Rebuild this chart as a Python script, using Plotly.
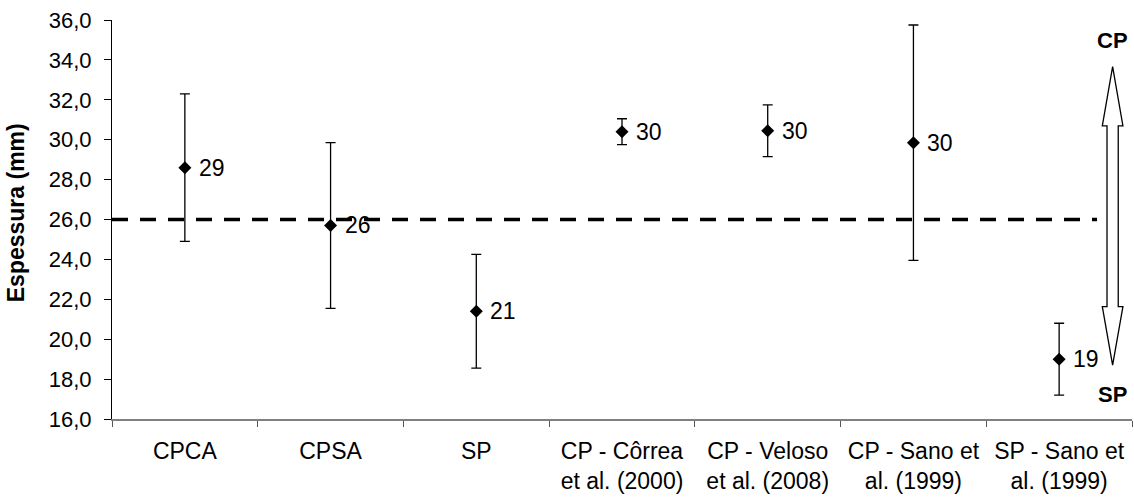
import plotly.graph_objects as go

categories = ["CPCA", "CPSA", "SP",
              "CP - Côrrea<br>et al. (2000)",
              "CP - Veloso<br>et al. (2008)",
              "CP - Sano et<br>al. (1999)",
              "SP - Sano et<br>al. (1999)"]
means = [28.6, 25.7, 21.4, 30.4, 30.45, 29.85, 19.0]
errors = [3.7, 4.15, 2.85, 0.65, 1.3, 5.9, 1.8]
point_labels = ["29", "26", "21", "30", "30", "30", "19"]
reference_value = 26.0
y_ticks = [16, 18, 20, 22, 24, 26, 28, 30, 32, 34, 36]

FONT = "Liberation Sans, Arial, sans-serif"
FS = 22

fig = go.Figure()
fig.add_trace(go.Scatter(
    x=categories, y=means, mode="markers",
    marker=dict(symbol="diamond", size=10, color="black"),
    error_y=dict(type="data", array=errors, visible=True, color="black",
                 thickness=1.3, width=5),
    cliponaxis=False, hoverinfo="skip", showlegend=False,
))
for cat, m, lab in zip(categories, means, point_labels):
    fig.add_annotation(text=lab, xref="x", yref="y", x=cat, y=m,
                       showarrow=False, xanchor="left", yanchor="middle",
                       xshift=12, font=dict(family=FONT, size=23, color="black"))

# dashed reference line
fig.add_shape(type="line", xref="x", yref="y", x0=-0.5, x1=6.26,
              y0=reference_value, y1=reference_value,
              line=dict(color="black", width=3.5, dash="16px,12px"))

# double arrow (CP up / SP down)
xc, hw, sw = 0.981, 0.0101, 0.0055
top_tip, top_base, bot_base, bot_tip = 33.66, 30.69, 21.63, 18.7
path = (f"M {xc},{top_tip} L {xc+hw},{top_base} L {xc+sw},{top_base} "
        f"L {xc+sw},{bot_base} L {xc+hw},{bot_base} L {xc},{bot_tip} "
        f"L {xc-hw},{bot_base} L {xc-sw},{bot_base} L {xc-sw},{top_base} "
        f"L {xc-hw},{top_base} Z")
fig.add_shape(type="path", xref="paper", yref="y", path=path,
              fillcolor="white", line=dict(color="black", width=1.3))

fig.add_annotation(text="<b>CP</b>", xref="paper", yref="y", x=xc, y=34.95,
                   showarrow=False, xanchor="center", yanchor="middle",
                   font=dict(family=FONT, size=FS, color="black"))
fig.add_annotation(text="<b>SP</b>", xref="paper", yref="y", x=xc, y=17.25,
                   showarrow=False, xanchor="center", yanchor="middle",
                   font=dict(family=FONT, size=FS, color="black"))

# y-axis title
fig.add_annotation(text="<b>Espessura (mm)</b>", xref="paper", yref="paper",
                   x=-0.094, y=0.516, textangle=-90, showarrow=False,
                   xanchor="center", yanchor="middle",
                   font=dict(family=FONT, size=23, color="black"))

fig.update_layout(
    width=1134, height=497,
    margin=dict(l=112, r=2, t=20, b=78),
    paper_bgcolor="white", plot_bgcolor="white",
    separators=",.",
    font=dict(family=FONT, size=FS, color="black"),
    hovermode=False,
)
fig.update_xaxes(
    type="category", range=[-0.5, 6.5],
    showline=True, linecolor="#808080", linewidth=1.5,
    ticks="outside", tickson="boundaries", ticklen=6, tickcolor="#555555",
    tickwidth=1, showgrid=False, zeroline=False, ticklabelstandoff=11,
    tickfont=dict(family=FONT, size=23, color="black"),
)
fig.update_yaxes(
    range=[16, 36], tickvals=y_ticks, tickformat=".1f",
    showline=True, linecolor="black", linewidth=1.2,
    ticks="outside", ticklen=7, tickcolor="black", ticklabelstandoff=8,
    showgrid=False, zeroline=False,
    tickfont=dict(family=FONT, size=FS, color="black"),
)

fig.write_html("out.html", config={"displayModeBar": False})
